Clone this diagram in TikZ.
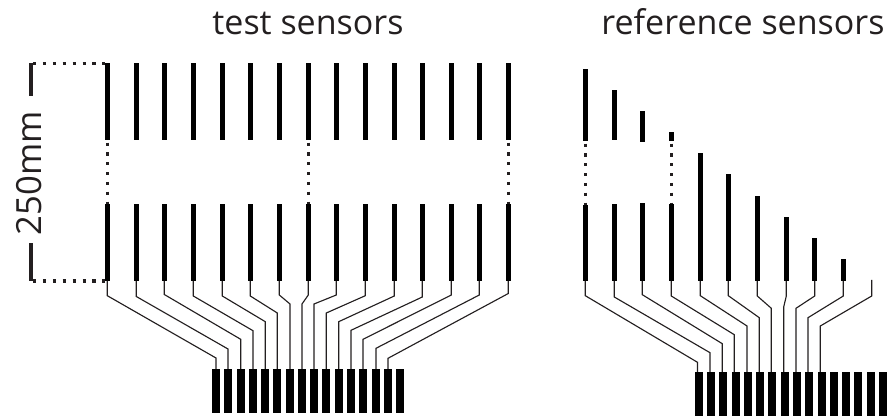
\documentclass[tikz,border=0pt]{standalone}
\usepackage{fontspec}
\setmainfont{Open Sans}
\definecolor{ink}{HTML}{231F20}
\tikzset{
  barnode/.style={fill=black,inner sep=0pt,outer sep=0pt,minimum width=3.75pt,anchor=north},
  padnode/.style={fill=black,inner sep=0pt,outer sep=0pt,minimum width=6pt,minimum height=33pt,anchor=north},
  wire/.style={draw=ink,line width=0.85pt,line join=miter},
  dotv/.style={draw=ink,line width=2.4pt,dash pattern=on 2.4pt off 4.96pt,shorten <=2pt},
  doth/.style={draw=ink,line width=2.4pt,dash pattern=on 2.4pt off 5.03pt},
  dimbar/.style={draw=ink,line width=3pt},
  title/.style={text=ink,inner sep=0pt,font=\fontsize{25.5}{30}\selectfont},
}
\begin{document}
\begin{tikzpicture}[x=0.75pt,y=-0.75pt]
\useasboundingbox (0,0) rectangle (889,416);
% titles
\node[title,anchor=base] (tt) at (308,34.5) {test sensors};
\node[title,anchor=base] (tr) at (743,34.5) {reference sensors};
\node[title,anchor=base,rotate=90,font=\fontsize{26}{30}\selectfont] (dim) at (41,173.5) {250mm};
% test sensors
\foreach \x [count=\i] in {107.3,136.3,164.3,193.3,222.3,250.3,279.3,308.3,336.3,365.3,394.3,422.3,451.3,479.3,508.3}{
  \node[barnode,minimum height=57.75pt] (tu\i) at (\x,63) {};
  \node[barnode,minimum height=57.75pt] (ts\i) at (\x,204) {};
}
\foreach \x [count=\i] in {216,228,240.7,253,265.3,277.3,290,302,314,326.3,338.7,351,363,376,388,400}{
  \node[padnode] (tp\i) at (\x,369) {};
}
\foreach \i/\yb/\xe/\ye in {1/295.7/216/358,2/296.5/228/349,3/294.5/240.7/339.3,4/296/253/330.7,5/296/265.3/321.7,6/296/277.3/313,7/295/290/304,8/295/302/304,9/295/314/304,10/295.7/326.3/313,11/296/338.7/321.7,12/297/351/330.3,13/295/363/339.3,14/295/376/348.3,15/293.5/388/358.3}{
  \draw[wire] (ts\i.south) -- (ts\i.south |- 0,\yb) -- (\xe,\ye) -- (tp\i.north -| \xe,0);
}
\foreach \i in {1,8,15}{
  \draw[dotv] (tu\i.south) -- (ts\i.north);
}
% reference sensors
\foreach \x/\ya/\yb [count=\i] in {585.3/69/141,614.3/90/140,642.3/111/142,671.3/132/141}{
  \node[barnode,minimum height={(\yb-\ya)*0.75pt}] (ru\i) at (\x,\ya) {};
}
\foreach \x/\ya [count=\i] in {585.3/205,614.3/204,642.3/203,671.3/204,700.3/153,728.3/174,757.3/196,786.3/217,814.7/238,843.3/259}{
  \node[barnode,minimum height={(281-\ya)*0.75pt}] (rs\i) at (\x,\ya) {};
}
\coordinate (rs11) at (871.7,280);
\foreach \x [count=\i] in {699,711,723,735.7,748,760,772,785,796.7,809,822,834,846,858,871,883}{
  \node[padnode] (rp\i) at (\x,372) {};
}
\foreach \i/\yb/\xe/\ye in {1/295.7/697.5/362.3,2/297/710/352.7,3/294.7/722.3/343.7,4/296/734.3/334.7,5/295.7/747/326,6/295.7/759.3/317.7,7/296/771.3/308.3,8/296/783.7/307,9/296/796/308.3,10/296/808/317.7}{
  \draw[wire] (rs\i.south) -- (rs\i.south |- 0,\yb) -- (\xe,\ye) -- (rp\i.north -| \xe,0);
}
\draw[wire] (rs11) -- (871.7,296) -- (820.3,326) -- (rp11.north -| 820.3,0);
\foreach \i in {1,4}{
  \draw[dotv] (ru\i.south) -- (rs\i.north);
}
% dimension marks
\coordinate (dt) at (31,63);
\coordinate (dte) at (31,96);
\coordinate (db) at (31,281);
\coordinate (dbe) at (31,243);
\draw[dimbar] (dt) -- (dte);
\draw[dimbar] (db) -- (dbe);
\draw[doth] (33,63.7) -- (tu1.north west |- 0,63.7);
\draw[doth] (33,281) -- (ts1.south west |- 0,281);
\end{tikzpicture}
\end{document}
